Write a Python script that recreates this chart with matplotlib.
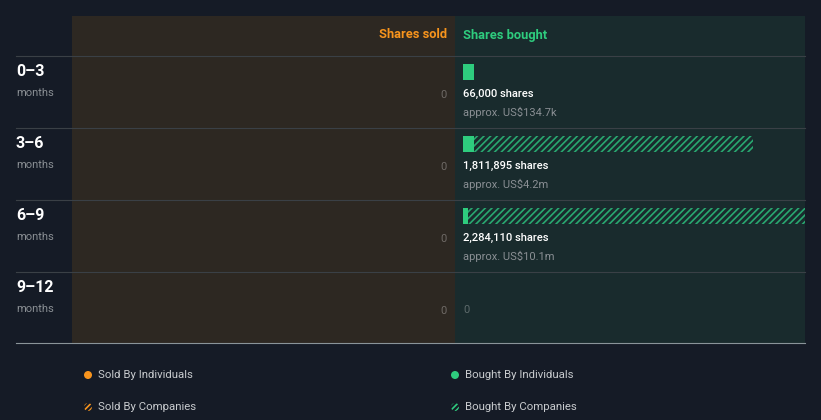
import matplotlib
matplotlib.use('Agg')
import numpy as np
import matplotlib.pyplot as plt
from matplotlib.patches import Rectangle, Circle

plt.rcParams['font.family'] = ['Roboto', 'DejaVu Sans']
plt.rcParams['hatch.linewidth'] = 1.2

# --- data ---
periods = ['0–3', '3–6', '6–9', '9–12']
sold_individuals = [0, 0, 0, 0]
sold_companies = [0, 0, 0, 0]
bought_individuals = [66000, 66000, 33000, 0]
bought_companies = [0, 1745895, 2251110, 0]
bought_shares = ['66,000 shares', '1,811,895 shares', '2,284,110 shares', None]
bought_value = ['approx. US$134.7k', 'approx. US$4.2m', 'approx. US$10.1m', None]

BG = '#151b26'
SOLD_BG = '#2d2822'
BUY_BG = '#192b2d'
GREEN = '#2ecc7e'
HATCH_GREEN = '#29a870'
ORANGE = '#f7941d'
GRID = '#3a4046'
GREY = '#8a8f94'

W, H = 821, 420
fig = plt.figure(figsize=(W / 100, H / 100), dpi=100, facecolor=BG)
ax = fig.add_axes([0, 0, 1, 1])
ax.set_xlim(0, W); ax.set_ylim(H, 0); ax.axis('off')

# panels
ax.add_patch(Rectangle((72, 16), 383, 327, color=SOLD_BG, lw=0))
ax.add_patch(Rectangle((455, 16), 350, 327, color=BUY_BG, lw=0))
ax.text(447, 35, 'Shares sold', color=ORANGE, fontsize=9.3, fontweight='bold', ha='right', va='center')
ax.text(463, 35, 'Shares bought', color=GREEN, fontsize=9.3, fontweight='bold', ha='left', va='center')

ROW0, ROWH = 56, 72
for i, p in enumerate(periods):
    top = ROW0 + i * ROWH
    ax.plot([16, 805], [top, top], color=GRID, lw=0.8)
    ax.text(16, top + 15, p, color='white', fontsize=11.5, fontweight='bold', va='center')
    ax.text(16, top + 37, 'months', color=GREY, fontsize=8, va='center')
    tot_sold = sold_individuals[i] + sold_companies[i]
    if tot_sold == 0:
        ax.text(447, top + 39, '0', color='#6e6a66', fontsize=8, ha='right', va='center')
    if bought_shares[i] is None:
        ax.text(463, top + 38, '0', color='#5d6a6b', fontsize=8, ha='left', va='center')
    else:
        ax.text(463, top + 38, bought_shares[i], color='white', fontsize=8,
                fontweight='medium', va='center')
        ax.text(463, top + 56, bought_value[i], color=GREY, fontsize=8, va='center')
ax.plot([16, 805], [343, 343], color='#8a9499', lw=0.8)

# legend
leg = [(88, 375, 'Sold By Individuals', ORANGE, False),
       (455, 375, 'Bought By Individuals', GREEN, False),
       (88, 407, 'Sold By Companies', ORANGE, True),
       (455, 407, 'Bought By Companies', GREEN, True)]
for x, y, lab, c, hatched in leg:
    if hatched:
        ax.add_patch(Circle((x, y), 4, facecolor=BG, edgecolor=c, hatch='//////', lw=0))
    else:
        ax.add_patch(Circle((x, y), 4, color=c, lw=0))
    ax.text(x + 10, y, lab, color='#c8cbce', fontsize=8.2, va='center')

# bars (bought); longest bar runs past the panel edge and is clipped
bx = fig.add_axes([463 / W, 1 - (ROW0 + 4 * ROWH) / H, 342 / W, 4 * ROWH / H])
bx.set_xlim(0, 2137000)
bx.set_ylim(4, 0); bx.axis('off')
y = np.arange(4) + 16 / 72
bx.barh(y, bought_individuals, height=16 / 72, color=GREEN, lw=0)
bx.barh(y, bought_companies, left=bought_individuals, height=16 / 72,
        facecolor=BUY_BG, edgecolor=HATCH_GREEN, hatch='/////', lw=0)

fig.savefig('out.png', dpi=100, facecolor=BG)
